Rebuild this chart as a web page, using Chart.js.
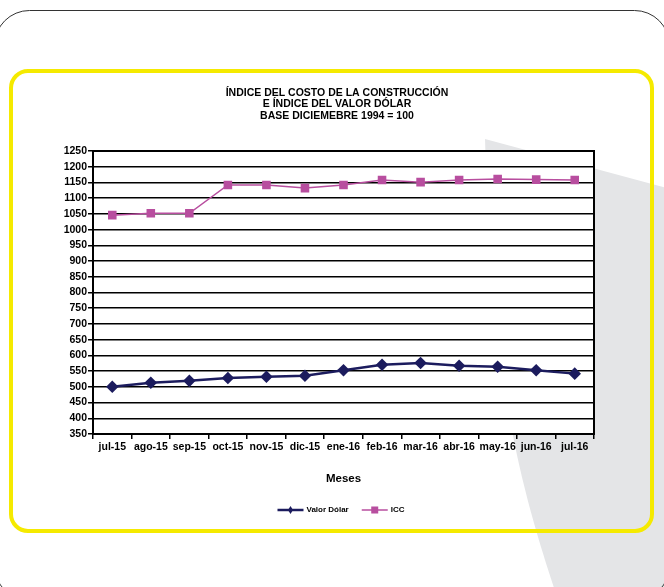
<!DOCTYPE html>
<html>
<head>
<meta charset="utf-8">
<script src="https://cdn.jsdelivr.net/npm/chart.js@4"></script>
<style>
html,body{margin:0;padding:0;background:#fff;}
#wrap{position:relative;width:664px;height:587px;}
</style>
</head>
<body>
<div id="wrap"><canvas id="c" width="664" height="587"></canvas></div>
<script>
const months = ['jul-15','ago-15','sep-15','oct-15','nov-15','dic-15','ene-16','feb-16','mar-16','abr-16','may-16','jun-16','jul-16'];
const valorDolar = [500, 513, 519, 528, 532, 535, 553, 570, 576, 567, 564, 553, 542];
const icc = [1046, 1052, 1052, 1142, 1142, 1132, 1142, 1158, 1151, 1158, 1161, 1159, 1158];
const titleLines = ['ÍNDICE DEL COSTO DE LA CONSTRUCCIÓN','E ÍNDICE DEL VALOR DÓLAR','BASE DICIEMEBRE 1994 = 100'];
const xTitle = 'Meses';
const yMin = 350, yMax = 1250, yStep = 50;

const FONT = "Arial, 'Liberation Sans', sans-serif";
const NAVY = '#1c1c5e';
const MAG = '#b84e9f';

function rr(ctx, x, y, w, h, r){
  ctx.beginPath();
  ctx.moveTo(x+r, y);
  ctx.lineTo(x+w-r, y);
  ctx.arcTo(x+w, y, x+w, y+r, r);
  ctx.lineTo(x+w, y+h-r);
  ctx.arcTo(x+w, y+h, x+w-r, y+h, r);
  ctx.lineTo(x+r, y+h);
  ctx.arcTo(x, y+h, x, y+h-r, r);
  ctx.lineTo(x, y+r);
  ctx.arcTo(x, y, x+r, y, r);
  ctx.closePath();
}

const bgPlugin = {
  id: 'bg',
  beforeDraw(chart){
    const ctx = chart.ctx;
    ctx.save();
    ctx.fillStyle = '#fff';
    ctx.fillRect(0,0,chart.width,chart.height);
    // gray decorative shape
    ctx.fillStyle = '#e4e5e7';
    ctx.beginPath();
    ctx.moveTo(485,139);
    ctx.lineTo(700,197);
    ctx.lineTo(700,600);
    ctx.lineTo(558,600);
    ctx.bezierCurveTo(518,480, 492,380, 485,139);
    ctx.closePath();
    ctx.fill();
    // outer black frame
    ctx.strokeStyle = '#333';
    ctx.lineWidth = 1;
    rr(ctx, -5.5, 10.5, 675, 590, 35);
    ctx.stroke();
    // yellow frame
    ctx.strokeStyle = '#f5ea00';
    ctx.lineWidth = 4;
    rr(ctx, 11, 71, 641, 460, 17);
    ctx.stroke();
    // plot area white
    const a = chart.chartArea;
    ctx.fillStyle = '#fff';
    ctx.fillRect(a.left, a.top, a.right-a.left, a.bottom-a.top);
    // title
    ctx.fillStyle = '#000';
    ctx.font = 'bold 10.5px ' + FONT;
    ctx.textAlign = 'center';
    ctx.textBaseline = 'middle';
    titleLines.forEach((t,i)=> ctx.fillText(t, 337, 93 + i*11.5));
    ctx.restore();
  },
  beforeDatasetsDraw(chart){
    const ctx = chart.ctx, a = chart.chartArea;
    ctx.save();
    ctx.strokeStyle = '#000';
    ctx.lineWidth = 2;
    ctx.strokeRect(a.left, a.top, a.right-a.left, a.bottom-a.top);
    ctx.restore();
  },
  afterDraw(chart){
    // legend: line + marker + label
    const ctx = chart.ctx;
    ctx.save();
    ctx.font = 'bold 8px ' + FONT;
    ctx.textBaseline = 'middle';
    const y = 510;
    const lineW = 26, gap = 3, itemGap = 13;
    const items = chart.data.datasets.map(d => ({label:d.label, color:d.borderColor, style:d.pointStyle, lw:d.borderWidth}));
    let total = 0;
    items.forEach((it,i)=>{ it.tw = ctx.measureText(it.label).width; total += lineW + gap + it.tw + (i? itemGap:0); });
    let x = 341 - total/2;
    items.forEach((it,i)=>{
      if(i) x += itemGap;
      ctx.strokeStyle = it.color; ctx.lineWidth = it.lw;
      ctx.beginPath(); ctx.moveTo(x, y); ctx.lineTo(x+lineW, y); ctx.stroke();
      ctx.fillStyle = it.color;
      const cx = x + lineW/2;
      if(it.style === 'rect'){ ctx.fillRect(cx-3.5, y-3.5, 7, 7); }
      else { ctx.beginPath(); ctx.moveTo(cx, y-4); ctx.lineTo(cx+2.5, y); ctx.lineTo(cx, y+4); ctx.lineTo(cx-2.5, y); ctx.closePath(); ctx.fill(); }
      x += lineW + gap;
      ctx.fillStyle = '#000';
      ctx.fillText(it.label, x, y);
      x += it.tw;
    });
    ctx.restore();
  }
};

new Chart(document.getElementById('c'), {
  type: 'line',
  data: {
    labels: months,
    datasets: [
      { label: 'Valor Dólar', data: valorDolar, borderColor: NAVY, backgroundColor: NAVY, borderWidth: 2.5,
        pointStyle: 'rectRot', pointRadius: 4.5, pointHoverRadius: 4.5, tension: 0 },
      { label: 'ICC', data: icc, borderColor: MAG, backgroundColor: MAG, borderWidth: 1.5,
        pointStyle: 'rect', pointRadius: 5, pointHoverRadius: 5, tension: 0 }
    ]
  },
  options: {
    responsive: false,
    animation: false,
    devicePixelRatio: 1,
    layout: { padding: { left: 50, right: 70, top: 151, bottom: 98 } },
    plugins: {
      legend: { display: false },
      tooltip: { enabled: false },
      title: { display: false }
    },
    scales: {
      x: {
        offset: true,
        grid: { offset: true, drawOnChartArea: false, drawTicks: true, tickLength: 5, color: '#000', lineWidth: 1.5 },
        border: { display: true, color: '#000', width: 2 },
        ticks: { color: '#000', font: { family: FONT, size: 10.5, weight: 'bold' }, padding: 2, maxRotation: 0, autoSkip: false },
        title: { display: true, text: xTitle, color: '#000', font: { family: FONT, size: 11.5, weight: 'bold' }, padding: { top: 0, bottom: 3 } },
        afterFit(s){ s.height = 55; }
      },
      y: {
        min: yMin, max: yMax,
        grid: { color: '#000', lineWidth: 1.5, drawTicks: true, tickLength: 5 },
        border: { display: true, color: '#000', width: 2 },
        ticks: { stepSize: yStep, color: '#000', font: { family: FONT, size: 10.5, weight: 'bold' }, padding: 1,
                 callback: v => String(v) },
        afterFit(s){ s.width = 43; }
      }
    }
  },
  plugins: [bgPlugin]
});
</script>
</body>
</html>
